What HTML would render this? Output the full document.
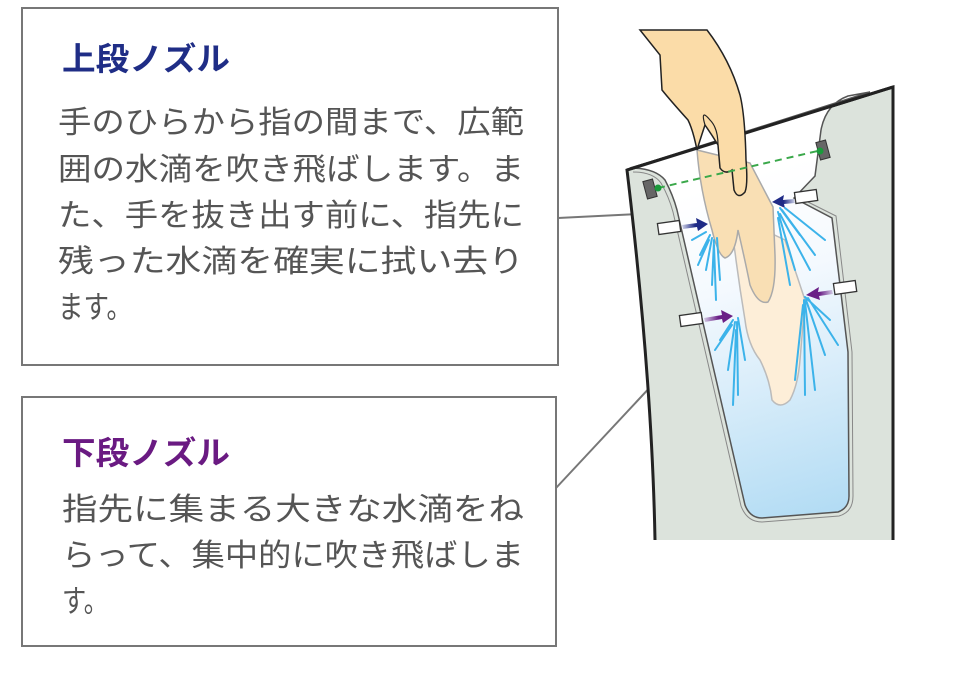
<!DOCTYPE html>
<html><head><meta charset="utf-8"><style>
html,body{margin:0;padding:0;background:#fff;}
svg{display:block}
</style></head><body>
<svg width="956" height="681" viewBox="0 0 956 681" xmlns="http://www.w3.org/2000/svg">
<defs>
<linearGradient id="cav" gradientUnits="userSpaceOnUse" x1="700" y1="190" x2="800" y2="520">
<stop offset="0" stop-color="#ffffff"/><stop offset="0.3" stop-color="#f4f9fe"/><stop offset="1" stop-color="#b3dcf4"/>
</linearGradient>
<linearGradient id="ab" x1="0" y1="0" x2="1" y2="0"><stop offset="0" stop-color="#1e2a86" stop-opacity="0.2"/><stop offset="0.5" stop-color="#1e2a86"/></linearGradient>
<linearGradient id="ab2" x1="1" y1="0" x2="0" y2="0"><stop offset="0" stop-color="#1e2a86" stop-opacity="0.2"/><stop offset="0.5" stop-color="#1e2a86"/></linearGradient>
<linearGradient id="ap" x1="0" y1="0" x2="1" y2="0"><stop offset="0" stop-color="#6a1f86" stop-opacity="0.2"/><stop offset="0.5" stop-color="#6a1f86"/></linearGradient>
<linearGradient id="ap2" x1="1" y1="0" x2="0" y2="0"><stop offset="0" stop-color="#6a1f86" stop-opacity="0.2"/><stop offset="0.5" stop-color="#6a1f86"/></linearGradient>
</defs>

<rect x="22" y="8" width="536" height="357" fill="#fff" stroke="#777" stroke-width="2"/>
<rect x="22" y="397" width="534" height="249" fill="#fff" stroke="#777" stroke-width="2"/>
<line x1="558" y1="218" x2="660" y2="213" stroke="#777" stroke-width="2"/>
<line x1="556" y1="488" x2="696" y2="338" stroke="#777" stroke-width="2"/>

<g font-family="'Liberation Sans','Noto Sans CJK JP',sans-serif">
<text x="62" y="70" font-size="32" font-weight="bold" fill="#1f2d86" textLength="168" lengthAdjust="spacingAndGlyphs">上段ノズル</text>
<g font-size="31" fill="#555">
<text x="58" y="133" textLength="466" lengthAdjust="spacingAndGlyphs">手のひらから指の間まで、広範</text>
<text x="58" y="180" textLength="466" lengthAdjust="spacingAndGlyphs">囲の水滴を吹き飛ばします。ま</text>
<text x="58" y="226" textLength="466" lengthAdjust="spacingAndGlyphs">た、手を抜き出す前に、指先に</text>
<text x="58" y="272" textLength="466" lengthAdjust="spacingAndGlyphs">残った水滴を確実に拭い去り</text>
<text x="58" y="318" textLength="74" lengthAdjust="spacingAndGlyphs">ます。</text>
</g>
<text x="62" y="464" font-size="32" font-weight="bold" fill="#6a1a82" textLength="168" lengthAdjust="spacingAndGlyphs">下段ノズル</text>
<g font-size="31" fill="#555">
<text x="62" y="520" textLength="462" lengthAdjust="spacingAndGlyphs">指先に集まる大きな水滴をね</text>
<text x="62" y="566" textLength="462" lengthAdjust="spacingAndGlyphs">らって、集中的に吹き飛ばしま</text>
<text x="62" y="612" textLength="46" lengthAdjust="spacingAndGlyphs">す。</text>
</g>
</g>

<!-- device body -->
<path d="M627,170 L893,87 L893,540 L655,540 Q652,380 627,170 Z" fill="#dce3dc"/>
<path d="M655,540 Q652,380 627,170 L893,87 L893,540" fill="none" stroke="#222" stroke-width="3"/>
<!-- cavity -->
<path d="M630,168 Q655,168 665,180 Q673,195 677,210 L745,505 Q750,518 762,518 L838,512 Q849,508 849,496 L848,352 L832,218 L794,198 L815,176 L821,130 Q826,104 848,96 L870,92 L650,162 Z" fill="url(#cav)" stroke="#555" stroke-width="1.5"/>
<path d="M633,172 Q653,172 661,183 Q669,197 673,212 L741,506 Q747,522 762,522 L839,516 Q853,512 853,496 L852,352 L836,216 L800,198" fill="none" stroke="#888" stroke-width="1"/>
<path d="M627,170 L893,87" stroke="#222" stroke-width="3"/>

<!-- hand lower light part -->
<path d="M728,213 Q733,235 736,260 Q740,290 745,320 Q748,345 760,360 Q770,380 772,400 Q780,410 790,400 Q798,385 800,360 L805,300 L785,240 Z" fill="#fdeed8" stroke="#bbb" stroke-width="1.5"/>
<!-- hand mid part -->
<path d="M697,150 Q700,190 712,230 Q718,255 725,258 Q735,255 738,230 Q745,260 750,285 Q758,305 768,302 Q776,290 775,255 L773,207 L750,163 Z" fill="#f9dfb4" stroke="#aaa" stroke-width="1.5"/>
<!-- hand upper -->
<path d="M640,30 L707,30 Q730,60 740,95 Q745,115 746,160 Q748,185 745,192 Q738,200 734,190 L732,170 Q725,175 720,168 L718,145 Q712,135 705,125 Q700,140 697,150 Q693,130 688,120 Q670,100 662,90 L660,55 Z" fill="#fbdca8" stroke="#222" stroke-width="1.5"/>
<path d="M705,125 Q700,108 710,120 Q718,128 718,145" fill="none" stroke="#222" stroke-width="1.2"/>

<!-- sensors -->
<line x1="658" y1="188" x2="822" y2="150" stroke="#3aa84a" stroke-width="2" stroke-dasharray="7,5"/>
<rect x="645" y="180" width="10" height="18" fill="#666" stroke="#333" transform="rotate(-15 650 189)"/>
<circle cx="658" cy="188" r="3.5" fill="#1a9a3a"/>
<rect x="818" y="141" width="10" height="18" fill="#666" stroke="#333" transform="rotate(-15 823 150)"/>
<circle cx="820" cy="151" r="3.5" fill="#1a9a3a"/>

<g fill="#fff" stroke="#333" stroke-width="1.3">
<rect x="658" y="222" width="22" height="11" transform="rotate(-8 669 227)"/>
<rect x="795" y="191" width="22" height="11" transform="rotate(-8 806 196)"/>
<rect x="680" y="314" width="22" height="11" transform="rotate(-8 691 319)"/>
<rect x="834" y="282" width="22" height="11" transform="rotate(-8 845 287)"/>
</g>
<path d="M682,225 L697,223 L696,218 L708,224 L698,231 L697,227 L683,229 Z" fill="url(#ab)"/>
<path d="M794,199 L783,200 L784,195 L772,202 L785,208 L784,204 L795,203 Z" fill="url(#ab2)"/>
<path d="M704,318 L722,315 L721,310 L733,316 L723,323 L722,319 L705,322 Z" fill="url(#ap)"/>
<path d="M832,290 L818,292 L819,287 L806,295 L820,300 L819,296 L833,294 Z" fill="url(#ap2)"/>

<g stroke="#3cb3ea" stroke-width="2" stroke-linecap="round">
<path d="M710,235 L700,255 M712,238 L706,270 M714,240 L712,285 M717,238 L720,280 M706,232 L692,240 M714,245 L716,300 M709,240 L698,265"/>
<path d="M780,208 L800,235 M782,210 L815,255 M780,214 L810,270 M778,212 L795,270 M785,208 L825,240 M778,218 L790,285"/>
<path d="M733,320 L720,340 M735,322 L728,370 M737,322 L738,395 M738,318 L745,360 M732,325 L715,350 M736,330 L733,405"/>
<path d="M805,297 L830,320 M806,300 L825,355 M805,302 L815,390 M804,300 L805,395 M808,298 L838,345 M803,305 L795,380"/>
</g>
</svg>
</body></html>
